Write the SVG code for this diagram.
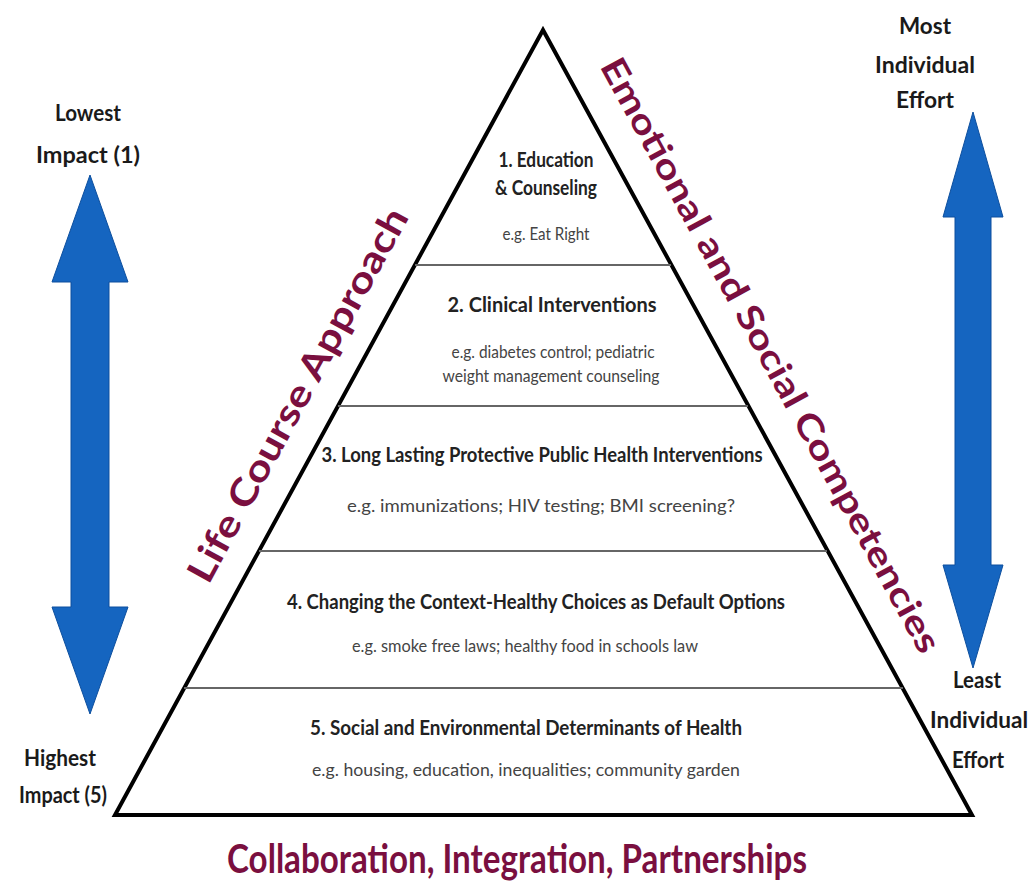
<svg xmlns="http://www.w3.org/2000/svg" width="1036" height="890" viewBox="0 0 1036 890">
<style>
text{font-family:Lato,"Liberation Sans",sans-serif;text-anchor:middle}
.t{font-weight:bold;fill:#222;font-size:21px}
.s{fill:#444;font-size:17px}
.side{font-weight:bold;fill:#1a1a1a;font-size:23px}
.m{font-weight:bold;fill:#7a0f3f}
.arrow{fill:#1565c0;stroke:#0d4f9e;stroke-width:1}
.div{stroke:#666;stroke-width:2}
</style>
<rect width="1036" height="890" fill="#fff"/>
<g id="pyramid">
<polygon points="543,30 115,815 972,815" fill="#fff" stroke="#000" stroke-width="4" stroke-linejoin="miter"/>
<line class="div" x1="415" y1="265" x2="671" y2="265"/>
<line class="div" x1="338" y1="406" x2="748" y2="406"/>
<line class="div" x1="259" y1="551" x2="827" y2="551"/>
<line class="div" x1="184" y1="688" x2="903" y2="688"/>
</g>
<g id="level1">
<text class="t" x="546" y="167" font-size="19" textLength="95" lengthAdjust="spacingAndGlyphs">1. Education</text>
<text class="t" x="546" y="195" font-size="19" textLength="102" lengthAdjust="spacingAndGlyphs">&amp; Counseling</text>
<text class="s" x="546" y="240" font-size="15" textLength="87" lengthAdjust="spacingAndGlyphs">e.g. Eat Right</text>
</g>
<g id="level2">
<text class="t" x="552" y="312" textLength="209" lengthAdjust="spacingAndGlyphs">2. Clinical Interventions</text>
<text class="s" x="553" y="358" textLength="203" lengthAdjust="spacingAndGlyphs">e.g. diabetes control; pediatric</text>
<text class="s" x="551" y="382" textLength="217" lengthAdjust="spacingAndGlyphs">weight management counseling</text>
</g>
<g id="level3">
<text class="t" x="542" y="462" textLength="441" lengthAdjust="spacingAndGlyphs">3. Long Lasting Protective Public Health Interventions</text>
<text class="s" x="541" y="512" textLength="388" lengthAdjust="spacingAndGlyphs">e.g. immunizations; HIV testing; BMI screening?</text>
</g>
<g id="level4">
<text class="t" x="536" y="609" textLength="498" lengthAdjust="spacingAndGlyphs">4. Changing  the Context-Healthy Choices as Default Options</text>
<text class="s" x="525" y="652" textLength="346" lengthAdjust="spacingAndGlyphs">e.g. smoke free laws; healthy food in schools law</text>
</g>
<g id="level5">
<text class="t" x="526" y="735" textLength="432" lengthAdjust="spacingAndGlyphs">5. Social and  Environmental  Determinants of Health</text>
<text class="s" x="526" y="776" textLength="428" lengthAdjust="spacingAndGlyphs">e.g. housing, education, inequalities; community garden</text>
</g>
<g id="left-arrow">
<polygon class="arrow" points="90,175 128,282 109,282 109,607 128,607 90,714 52,607 71,607 71,282 52,282"/>
</g>
<g id="right-arrow">
<polygon class="arrow" points="973,112 1003,217 991,217 991,565 1003,565 973,668 943,565 955,565 955,217 943,217"/>
</g>
<g id="left-labels">
<text class="side" x="88" y="121" textLength="66" lengthAdjust="spacingAndGlyphs">Lowest</text>
<text class="side" x="88" y="163" textLength="104" lengthAdjust="spacingAndGlyphs">Impact (1)</text>
<text class="side" x="60" y="766" textLength="72" lengthAdjust="spacingAndGlyphs">Highest</text>
<text class="side" x="63" y="803" textLength="88" lengthAdjust="spacingAndGlyphs">Impact (5)</text>
</g>
<g id="right-labels">
<text class="side" x="925" y="34" textLength="52" lengthAdjust="spacingAndGlyphs">Most</text>
<text class="side" x="925" y="73" textLength="100" lengthAdjust="spacingAndGlyphs">Individual</text>
<text class="side" x="925" y="108" textLength="58" lengthAdjust="spacingAndGlyphs">Effort</text>
<text class="side" x="977" y="688" textLength="48" lengthAdjust="spacingAndGlyphs">Least</text>
<text class="side" x="979" y="728" textLength="98" lengthAdjust="spacingAndGlyphs">Individual</text>
<text class="side" x="978" y="768" textLength="52" lengthAdjust="spacingAndGlyphs">Effort</text>
</g>
<g id="side-labels">
<text class="m" font-size="37" transform="translate(309,401) rotate(-61.4)" textLength="420" lengthAdjust="spacingAndGlyphs">Life Course Approach</text>
<text class="m" font-size="35" transform="translate(760,361) rotate(61.4)" textLength="672" lengthAdjust="spacingAndGlyphs">Emotional and Social Competencies</text>
<text class="m" font-size="40" x="517" y="873" textLength="580" lengthAdjust="spacingAndGlyphs">Collaboration, Integration, Partnerships</text>
</g>
</svg>
